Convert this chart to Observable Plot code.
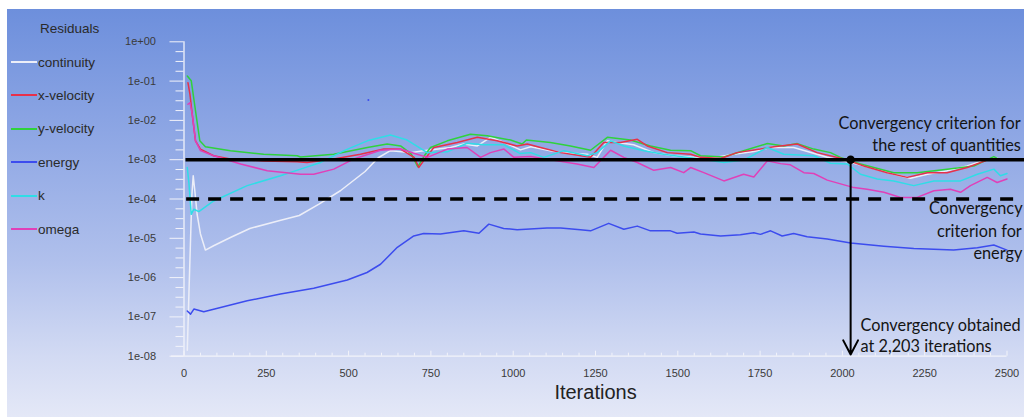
<!DOCTYPE html>
<html>
<head>
<meta charset="utf-8">
<script src="https://cdn.jsdelivr.net/npm/d3@7"></script>
<script src="https://cdn.jsdelivr.net/npm/@observablehq/plot@0.6"></script>
<style>
  html, body { margin: 0; padding: 0; background: #ffffff; }
  #wrap { position: relative; width: 1024px; height: 417px; overflow: hidden; }
  #bg { position: absolute; left: 7px; top: 9px; right: 0; bottom: 0;
        background: linear-gradient(to bottom, #6d8fdc 0%, #8da6e4 30%, #b0c0ec 62%, #d2daf3 85%, #e4e8f7 100%); }
  #chart { position: absolute; left: 0; top: 0; }
  #legend { position: absolute; left: 0; top: 0; font-family: "Liberation Sans", Arial, sans-serif; font-size: 13.5px; color: #2a2a2a; }
  .lg-title { position: absolute; left: 40px; top: 21px; }
  .lg-item { position: absolute; left: 11px; height: 18px; display: flex; align-items: center; white-space: nowrap; }
  .lg-sw { width: 26px; height: 2px; margin-right: 1px; }
</style>
</head>
<body>
<div id="wrap">
  <div id="bg"></div>
  <div id="chart"></div>
  <div id="legend"></div>
</div>
<script>
// ---- Data (iteration, log10 residual) ----
const seriesNames = ["continuity", "x-velocity", "y-velocity", "energy", "k", "omega"];
const seriesColors = ["#eceef8", "#e8304a", "#2fd23c", "#3c4cee", "#2fdde6", "#e040b8"];

const continuity = [[10,-7.85],[15,-6.4],[20,-5.0],[24,-3.9],[28,-3.41],[33,-3.8],[40,-4.4],[50,-4.89],[65,-5.30],[90,-5.19],[141,-4.98],[200,-4.75],[294,-4.54],[350,-4.42],[410,-4.13],[475,-3.79],[550,-3.30],[590,-2.95],[627,-2.77],[688,-2.82],[728,-2.77],[810,-2.69],[850,-2.60],[891,-2.65],[931,-2.43],[972,-2.56],[1022,-2.75],[1053,-2.67],[1113,-2.77],[1154,-2.82],[1225,-2.86],[1255,-2.94],[1286,-2.52],[1316,-2.56],[1366,-2.62],[1427,-2.82],[1488,-2.90],[1549,-2.94],[1599,-2.96],[1670,-2.86],[1731,-2.79],[1782,-2.69],[1852,-2.69],[1954,-2.94],[2025,-3.07],[2085,-3.20],[2156,-3.37],[2207,-3.47],[2258,-3.37],[2318,-3.28],[2379,-3.16],[2440,-2.99],[2470,-2.96]];

const xVelocity = [[12,-1.04],[18,-1.33],[25,-1.84],[35,-2.52],[50,-2.73],[90,-2.90],[141,-2.98],[242,-3.03],[344,-3.05],[374,-3.07],[455,-2.98],[536,-2.86],[607,-2.73],[658,-2.73],[700,-2.95],[713,-3.20],[730,-3.0],[759,-2.69],[830,-2.56],[891,-2.43],[951,-2.52],[1012,-2.65],[1043,-2.60],[1083,-2.69],[1144,-2.82],[1235,-2.94],[1275,-2.56],[1326,-2.56],[1377,-2.48],[1407,-2.65],[1468,-2.82],[1539,-2.86],[1569,-2.94],[1630,-2.97],[1680,-2.82],[1751,-2.73],[1792,-2.67],[1863,-2.60],[1923,-2.82],[2004,-2.98],[2065,-3.16],[2136,-3.33],[2197,-3.45],[2258,-3.33],[2318,-3.33],[2379,-3.20],[2450,-2.98],[2480,-3.01]];

const yVelocity = [[10,-0.87],[22,-0.99],[35,-1.76],[48,-2.52],[65,-2.67],[141,-2.77],[242,-2.86],[344,-2.90],[354,-2.93],[455,-2.86],[557,-2.69],[617,-2.60],[658,-2.65],[690,-2.85],[710,-3.18],[730,-2.9],[749,-2.69],[800,-2.52],[870,-2.35],[921,-2.39],[992,-2.50],[1027,-2.60],[1040,-2.50],[1113,-2.56],[1174,-2.65],[1235,-2.76],[1286,-2.43],[1356,-2.50],[1417,-2.65],[1478,-2.76],[1539,-2.77],[1569,-2.90],[1640,-2.93],[1700,-2.77],[1772,-2.59],[1822,-2.65],[1863,-2.59],[1913,-2.73],[1964,-2.82],[1994,-2.94],[2055,-3.11],[2156,-3.33],[2227,-3.33],[2318,-3.24],[2399,-3.16],[2460,-2.92],[2480,-3.01]];

const energy = [[10,-6.85],[20,-6.93],[30,-6.80],[60,-6.87],[192,-6.59],[293,-6.42],[394,-6.27],[496,-6.06],[556,-5.87],[597,-5.66],[648,-5.23],[698,-4.94],[728,-4.88],[779,-4.89],[850,-4.81],[896,-4.87],[926,-4.64],[971,-4.75],[1012,-4.78],[1103,-4.74],[1144,-4.74],[1204,-4.78],[1235,-4.81],[1290,-4.62],[1336,-4.77],[1377,-4.69],[1417,-4.81],[1478,-4.81],[1498,-4.87],[1549,-4.84],[1569,-4.89],[1630,-4.94],[1690,-4.91],[1731,-4.86],[1751,-4.90],[1782,-4.81],[1817,-4.94],[1852,-4.88],[1893,-4.96],[1954,-5.02],[2025,-5.12],[2126,-5.20],[2217,-5.26],[2338,-5.30],[2410,-5.24],[2460,-5.17],[2500,-5.30]];

const kTurb = [[10,-3.20],[15,-3.6],[22,-4.39],[30,-4.26],[45,-4.32],[90,-4.05],[192,-3.66],[293,-3.41],[354,-3.24],[415,-3.07],[486,-2.77],[557,-2.52],[627,-2.37],[678,-2.50],[739,-2.82],[800,-2.80],[830,-2.69],[860,-2.58],[911,-2.62],[972,-2.62],[1020,-2.84],[1053,-2.82],[1093,-2.94],[1154,-2.77],[1225,-2.90],[1255,-2.82],[1296,-2.52],[1336,-2.65],[1397,-2.77],[1457,-2.86],[1518,-2.93],[1569,-2.98],[1640,-3.07],[1700,-3.01],[1772,-2.69],[1822,-2.86],[1913,-2.90],[1964,-3.09],[2015,-3.11],[2055,-3.37],[2106,-3.49],[2156,-3.54],[2217,-3.66],[2278,-3.54],[2359,-3.54],[2410,-3.37],[2460,-3.24],[2480,-3.41],[2500,-3.35]];

const omega = [[12,-1.59],[18,-1.55],[25,-1.84],[35,-2.52],[50,-2.77],[90,-2.90],[172,-3.11],[253,-3.28],[354,-3.37],[394,-3.37],[455,-3.24],[516,-2.98],[597,-2.76],[658,-2.73],[708,-2.86],[739,-2.94],[800,-2.73],[860,-2.69],[901,-2.94],[931,-2.82],[972,-2.73],[1002,-2.94],[1053,-2.92],[1134,-3.03],[1194,-3.11],[1245,-3.20],[1296,-2.76],[1336,-2.94],[1377,-3.07],[1427,-3.27],[1478,-3.20],[1518,-3.33],[1539,-3.20],[1579,-3.33],[1640,-3.54],[1700,-3.37],[1731,-3.44],[1772,-3.03],[1812,-3.10],[1842,-3.13],[1883,-3.33],[1913,-3.35],[1954,-3.52],[2035,-3.71],[2075,-3.75],[2126,-3.83],[2177,-3.96],[2227,-3.96],[2278,-3.79],[2328,-3.75],[2359,-3.83],[2389,-3.66],[2440,-3.45],[2470,-3.58],[2500,-3.49]];

const strayPoint = [[560, -1.48]];

// Axis ticks
const xTickValues = [0, 250, 500, 750, 1000, 1250, 1500, 1750, 2000, 2250, 2500];
const xTickLabels = ["0", "250", "500", "750", "1000", "1250", "1500", "1750", "2000", "2250", "2500"];
const yTickValues = [1e0, 1e-1, 1e-2, 1e-3, 1e-4, 1e-5, 1e-6, 1e-7, 1e-8];
const yTickLabels = ["1e+00", "1e-01", "1e-02", "1e-03", "1e-04", "1e-05", "1e-06", "1e-07", "1e-08"];

// Convergence criteria and annotation
const criterionOthers = 1e-3;
const criterionEnergy = 1e-4;
const convergedAt = 2025;
const annotationLines = [
  {text: "Convergency criterion for", x: 1988, y: 8.2e-3},
  {text: "the rest of quantities", x: 2091, y: 2.26e-3},
  {text: "Convergency", x: 2263, y: 5.6e-5},
  {text: "criterion for", x: 2287, y: 1.49e-5},
  {text: "energy", x: 2398, y: 4.03e-6},
  {text: "Convergency obtained", x: 2055, y: 5.9e-8},
  {text: "at 2,203 iterations", x: 2055, y: 1.73e-8}
];
const xLabel = "Iterations";
const legendTitle = "Residuals";

// ---- Build table ----
const seriesData = [continuity, xVelocity, yVelocity, energy, kTurb, omega];
const drawOrder = [0, 2, 1, 3, 4, 5];
const rows = drawOrder.flatMap(i => seriesData[i].map(([x, l]) => ({series: seriesNames[i], x, y: Math.pow(10, l)})));

const axisColor = "#f2f3fa";
const W = 1024, H = 417;
const mL = 183.5, mR = 17.5, mT = 41.3, mB = 61.3;
const frameH = H - mT - mB;

const yMinor = [];
for (let e = -8; e < 0; e++) for (const f of [0.25, 0.5, 0.75]) yMinor.push(Math.pow(10, e + f));
const xMinor = d3.range(0, 2501, 50).filter(v => v % 250 !== 0);

const plot = Plot.plot({
  width: W, height: H,
  marginLeft: mL, marginRight: mR, marginTop: mT, marginBottom: mB,
  style: {background: "transparent", fontFamily: "'Liberation Sans', Arial, sans-serif", fontSize: "11px", overflow: "visible"},
  x: {domain: [0, 2500]},
  y: {type: "log", domain: [1e-8, 1]},
  color: {domain: seriesNames, range: seriesColors},
  marks: [
    // axes
    Plot.ruleX([0], {y1: () => 1e-8, y2: () => 1, stroke: axisColor, strokeWidth: 1.3}),
    Plot.ruleY([1e-8], {x1: () => -38, x2: () => 2500, stroke: axisColor, strokeWidth: 1.3}),
    Plot.axisY(yTickValues, {tickSize: 14, tickPadding: 14, stroke: axisColor, fill: "#3a3a3a",
      tickFormat: d => yTickLabels[yTickValues.indexOf(d)], label: null}),
    Plot.axisY(yMinor, {tickSize: 8, tickPadding: 0, stroke: axisColor, tickFormat: () => "", label: null}),
    Plot.axisX(xTickValues, {tickSize: 0, tickPadding: 13, fill: "#3a3a3a", label: null,
      tickFormat: d => xTickLabels[xTickValues.indexOf(d)]}),
    Plot.tickX(xTickValues, {x: d => d, insetTop: frameH - 5, stroke: axisColor}),
    Plot.tickX(xMinor, {x: d => d, insetTop: frameH - 3, stroke: axisColor}),
    Plot.text([xLabel], {frameAnchor: "bottom", x: () => 1250, text: d => d, dy: 43, fontSize: 20, fill: "#222"}),
    // residual lines
    Plot.line(rows, {x: "x", y: "y", z: "series", stroke: "series", strokeWidth: 1.5}),
    Plot.dot(strayPoint, {x: d => d[0], y: d => Math.pow(10, d[1]), r: 1, fill: seriesColors[3], stroke: null}),
    // criteria
    Plot.ruleY([criterionOthers], {x1: () => 6, x2: () => 2560, stroke: "#000", strokeWidth: 3.5}),
    Plot.ruleY([criterionEnergy], {x1: () => 8, x2: () => 2541, stroke: "#000", strokeWidth: 3.5, strokeDasharray: "13,9"}),
    Plot.arrow([{x: convergedAt, y1: criterionOthers, y2: 1.1e-8}], {x1: "x", x2: "x", y1: "y1", y2: "y2",
      stroke: "#000", strokeWidth: 2, headLength: 12, headAngle: 55}),
    Plot.dot([{x: convergedAt, y: criterionOthers}], {x: "x", y: "y", r: 4.3, fill: "#000", stroke: null}),
    Plot.text(annotationLines, {x: "x", y: "y", text: "text", textAnchor: "start", fontSize: 16.3,
      fontFamily: "Lato, 'Open Sans', sans-serif", fill: "#141414"})
  ]
});
document.getElementById("chart").appendChild(plot);

// ---- Legend ----
const legend = document.getElementById("legend");
const t = document.createElement("div");
t.className = "lg-title"; t.textContent = legendTitle;
legend.appendChild(t);
seriesNames.forEach((name, i) => {
  const it = document.createElement("div");
  it.className = "lg-item";
  it.style.top = (53 + i * 33.4) + "px";
  const sw = document.createElement("span");
  sw.className = "lg-sw"; sw.style.background = seriesColors[i];
  const tx = document.createElement("span");
  tx.textContent = name;
  it.appendChild(sw); it.appendChild(tx);
  legend.appendChild(it);
});
</script>
</body>
</html>
